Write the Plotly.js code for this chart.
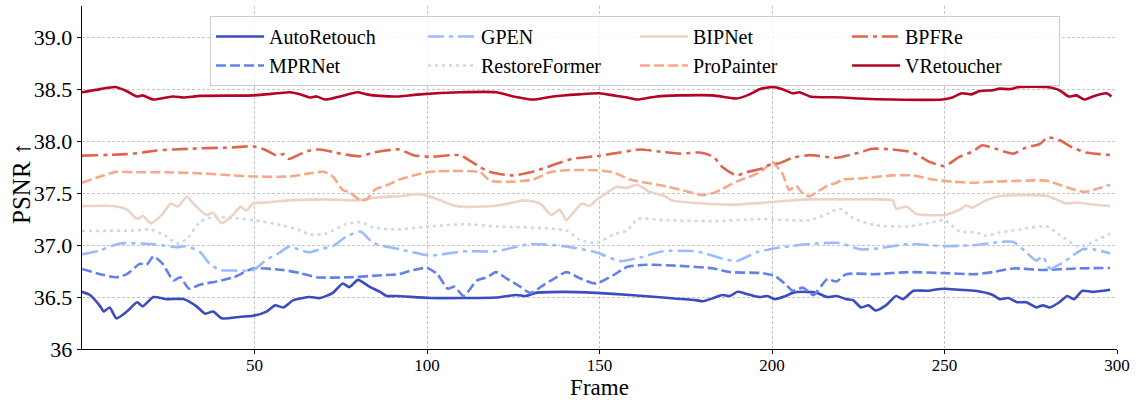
<!DOCTYPE html>
<html>
<head>
<meta charset="utf-8">
<script src="https://cdn.plot.ly/plotly-3.0.1.min.js"></script>
<style>html,body{margin:0;padding:0;background:#fff;}#chart{width:1136px;height:402px;}</style>
</head>
<body>
<div id="chart"></div>
<script>
// ---- data ----
const seriesNames = ["AutoRetouch","MPRNet","GPEN","RestoreFormer","BIPNet","ProPainter","BPFRe","VRetoucher"];

const autoX = [0,2.3,5.3,6.3,8,10,13,16,17.6,20.7,24.6,29.4,33.2,35.7,38,40.5,46,49.6,53.5,56,58.3,61.3,66,69,72.7,75.6,77.5,80,83.3,86.4,88.3,91,101,110.6,120,126,128.6,131.5,139.5,149,158.8,168.4,178,180,183,185.6,187.8,190,192.6,196.4,198.7,200.6,204,206,210,213,216,218.7,221.5,223.5,225.8,228,230,233,236,238,241,245,247,250,254.4,259,264,266,268.5,271,273.7,276.6,278.5,280.5,283.3,285.6,287.5,290,293,298];
const autoY = [36.55,36.52,36.41,36.36,36.40,36.295,36.36,36.45,36.41,36.50,36.48,36.48,36.41,36.34,36.36,36.295,36.31,36.32,36.36,36.42,36.40,36.47,36.50,36.49,36.54,36.63,36.595,36.665,36.60,36.55,36.51,36.51,36.49,36.49,36.495,36.52,36.51,36.54,36.55,36.54,36.52,36.495,36.47,36.46,36.49,36.52,36.51,36.55,36.53,36.50,36.51,36.48,36.51,36.54,36.55,36.54,36.50,36.51,36.48,36.47,36.40,36.42,36.37,36.42,36.51,36.48,36.56,36.56,36.57,36.58,36.57,36.56,36.52,36.48,36.49,36.45,36.45,36.40,36.42,36.40,36.45,36.51,36.48,36.56,36.55,36.57];

const mprX = [0,5.3,10,13,16.8,18.7,20.7,23.4,26.5,28.5,31,34.3,39,44,49.6,58.3,63.2,68,77.5,87,92,96,100,103,106,108,110.6,114.5,117.4,120,123,127,130,134,137,140.4,144.3,149,154,158,163.6,173.3,183,187.8,197.3,201,204,206,209,212,216,218.7,221.5,230,239.6,250,259,264,270,278.5,288,298];
const mprY = [36.77,36.72,36.69,36.72,36.82,36.81,36.89,36.82,36.66,36.69,36.58,36.62,36.65,36.69,36.775,36.76,36.73,36.69,36.69,36.71,36.72,36.76,36.78,36.72,36.58,36.60,36.51,36.66,36.69,36.74,36.68,36.60,36.54,36.62,36.68,36.74,36.68,36.63,36.71,36.79,36.81,36.80,36.775,36.74,36.73,36.70,36.62,36.56,36.59,36.52,36.67,36.65,36.72,36.72,36.74,36.73,36.72,36.74,36.775,36.76,36.775,36.78];

const gpenX = [0,5.3,11,20,27.5,30.4,34.3,37,40,44,49.6,53.5,56.5,60.3,63.2,66,69,72.7,76.5,80.7,84.4,92,101,110.6,120,130,139.5,149,156,161.7,168.4,178,185.6,189.7,195.5,201,211,219.6,225.4,231.2,239.6,250,259,266,270,273.7,276.6,278.5,280.5,285.2,290,293,298];
const gpenY = [36.91,36.95,37.015,37.01,36.98,36.99,36.93,36.82,36.76,36.755,36.76,36.86,36.91,36.99,36.95,36.93,36.96,36.99,37.08,37.13,37.02,36.96,36.90,36.94,36.94,37.01,36.99,36.93,36.845,36.88,36.94,36.94,36.87,36.845,36.93,36.97,37.01,37.02,36.96,36.97,37.01,36.99,37.00,37.03,37.03,36.93,36.85,36.89,36.775,36.85,36.96,36.96,36.92];

const restX = [0,15,20,24.6,27.5,30.4,34.3,38,44,49.6,58,63.2,66,70.7,76.5,80.7,84.4,91,101,110.6,120,134.8,140.4,144.3,149,154,158,161,168.4,183,196.4,211,216,219.6,223.5,230,239.6,246.6,250,254.4,259.2,262,266,271.7,279.5,283.3,289,293,298];
const restY = [37.135,37.14,37.15,37.08,37.015,37.06,37.225,37.27,37.26,37.24,37.19,37.14,37.10,37.11,37.20,37.22,37.17,37.15,37.18,37.20,37.18,37.16,37.14,37.05,37.02,37.10,37.14,37.25,37.24,37.23,37.25,37.24,37.30,37.35,37.26,37.19,37.18,37.22,37.24,37.13,37.12,37.09,37.12,37.15,37.18,37.10,36.985,37.03,37.11];

const bipX = [0,9,13,16,17.6,20,23.4,25.7,27.8,30.4,32,36,38,40.5,44,46,47.6,49.6,53.5,60,70,80,86,92,98,104,106,109.6,119,125,128,132.8,136,138.5,140.4,142.3,145,147,149,152,155,158,160.8,164.7,169,171,180,190,200,210,220,230,235,236,239,241.8,250,254.4,256.3,258,262,266,272,280,283,285.2,288,293,298];
const bipY = [37.375,37.375,37.34,37.25,37.28,37.21,37.30,37.40,37.37,37.465,37.41,37.29,37.31,37.21,37.30,37.37,37.33,37.40,37.41,37.43,37.44,37.43,37.46,37.47,37.49,37.43,37.40,37.37,37.375,37.41,37.43,37.40,37.29,37.34,37.24,37.31,37.40,37.375,37.43,37.50,37.56,37.55,37.58,37.51,37.47,37.43,37.40,37.39,37.415,37.44,37.44,37.44,37.43,37.35,37.37,37.30,37.29,37.34,37.38,37.36,37.43,37.47,37.48,37.47,37.43,37.40,37.41,37.39,37.375];

const proX = [0,5.3,10,15,24.6,34.3,44,49.6,60.3,66,70,72.7,75.6,77.5,80.7,82.5,85,88,92,96,101,115.4,118,120,125,130.7,135.6,140.4,149,154,158.8,163.6,170,176,180,183,185.6,189.7,194.5,197.3,200.2,201,203,205,207,209,211,213,216,218.7,220.5,225.4,235,240.8,246.6,252.3,258,264,273.7,279.5,283.3,287,290.6,294,298];
const proY = [37.60,37.66,37.705,37.70,37.70,37.69,37.67,37.66,37.66,37.69,37.705,37.66,37.53,37.51,37.43,37.44,37.535,37.57,37.63,37.67,37.705,37.70,37.625,37.61,37.61,37.63,37.70,37.72,37.72,37.70,37.63,37.60,37.56,37.51,37.48,37.50,37.54,37.61,37.67,37.72,37.80,37.77,37.69,37.53,37.57,37.49,37.47,37.51,37.57,37.60,37.63,37.64,37.67,37.67,37.63,37.61,37.60,37.61,37.62,37.62,37.58,37.54,37.51,37.54,37.58];

const bpfX = [0,13,17.6,21.5,26.5,34,44,49.6,53.5,56.5,58.3,60,63.2,66,69,72.7,76.5,80.7,84.4,88,92,96,101,109.6,112,115.4,117,120,125,130,134.8,137.7,142.3,150,155.9,161.7,168.4,173.3,179,183,185.6,189.7,192.6,197.3,200.2,202,206,211,218.7,225.4,229,235,240.8,245.7,250,254.4,258.2,261,264,270,273.7,277.5,280,283.3,287,291,295,298.4];
const bpfY = [37.86,37.875,37.89,37.91,37.92,37.93,37.94,37.95,37.91,37.86,37.875,37.83,37.875,37.91,37.92,37.895,37.87,37.855,37.89,37.91,37.92,37.865,37.85,37.865,37.82,37.75,37.72,37.69,37.67,37.70,37.75,37.785,37.83,37.86,37.89,37.92,37.895,37.88,37.89,37.85,37.75,37.67,37.70,37.74,37.785,37.785,37.84,37.865,37.84,37.89,37.926,37.92,37.89,37.80,37.76,37.85,37.90,37.96,37.935,37.88,37.94,37.97,38.035,38.01,37.94,37.89,37.875,37.865];

const vrX = [0,5.3,9.6,13,16,17.6,20.7,26.5,29.4,34.3,49.6,56.5,60.3,63.2,66,68,70.5,74.8,77.7,80,82.5,86.4,92,98,109.6,120,125,130.7,136.5,144,150,154,158,161,166.6,173,182.8,189.7,193.5,196.4,200.2,203,206,208,211,220.5,225.4,235,249.4,252.3,255,257.8,260,264,266,268.8,271.7,279.5,283.3,286,288.2,290.6,293,296.9,298.4];
const vrY = [38.47,38.50,38.52,38.48,38.43,38.44,38.40,38.43,38.42,38.435,38.44,38.46,38.47,38.45,38.42,38.43,38.40,38.43,38.455,38.47,38.45,38.435,38.43,38.45,38.47,38.47,38.43,38.40,38.43,38.45,38.46,38.44,38.42,38.40,38.43,38.44,38.44,38.41,38.45,38.50,38.52,38.50,38.46,38.47,38.43,38.42,38.41,38.40,38.40,38.42,38.46,38.45,38.48,38.49,38.505,38.50,38.52,38.52,38.49,38.43,38.44,38.40,38.43,38.46,38.43];

const xTickVals = [50,100,150,200,250,300];
const yTickVals = [36,36.5,37,37.5,38,38.5,39];
const yTickText = ["36","36.5","37.0","37.5","38.0","38.5","39.0"];
const yTitle = "PSNR ↑";
const xTitle = "Frame";

// ---- styling ----
const colors = ["#3b4cc0","#6282ea","#9abbff","#c9d7f0","#ebd3c6","#f7a889","#e0654f","#b40426"];
const dashes = ["solid","10px,4px","16px,5px,4px,5px","3px,4px","solid","10px,4px","16px,5px,4px,5px","solid"];
const ranks = [1,5,2,6,3,7,4,8];
const xs = [autoX,mprX,gpenX,restX,bipX,proX,bpfX,vrX];
const ys = [autoY,mprY,gpenY,restY,bipY,proY,bpfY,vrY];

const traces = seriesNames.map((n,i)=>({
  type:'scatter', mode:'lines', name:n, x:xs[i], y:ys[i],
  legendrank: ranks[i],
  line:{color:colors[i], width:2.6, dash:dashes[i], shape:'spline', smoothing:0.6}
}));

const serif = '"Liberation Serif","Times New Roman",serif';
const layout = {
  width:1136, height:402,
  margin:{l:82, r:19, t:6, b:53},
  paper_bgcolor:'#fff', plot_bgcolor:'#fff',
  font:{family:serif, color:'#000'},
  showlegend:true,
  legend:{
    orientation:'h', x:0.1237, y:0.971, xanchor:'left', yanchor:'top',
    bgcolor:'rgba(255,255,255,0.8)', bordercolor:'#cccccc', borderwidth:1,
    font:{family:serif, size:20, color:'#000'},
    entrywidth:149, entrywidthmode:'pixels', itemwidth:48, traceorder:'normal'
  },
  xaxis:{
    range:[0,300], tickvals:xTickVals, ticks:'outside', ticklen:4, tickwidth:1, tickcolor:'#000',
    showline:true, linecolor:'#000', linewidth:1.3, zeroline:false,
    showgrid:true, gridcolor:'#b8b8b8', gridwidth:0.8, griddash:'3px,2px',
    tickfont:{family:serif, size:17, color:'#000'}, ticklabelstandoff:-4,
    title:{text:xTitle, font:{family:serif, size:23, color:'#000'}, standoff:3}
  },
  yaxis:{
    range:[36,39.3], tickvals:yTickVals, ticktext:yTickText, ticks:'outside', ticklen:4, tickwidth:1, tickcolor:'#000',
    showline:true, linecolor:'#000', linewidth:1.3, zeroline:false,
    showgrid:true, gridcolor:'#b8b8b8', gridwidth:0.8, griddash:'3px,2px',
    tickfont:{family:serif, size:22, color:'#000'}
  },
  annotations:[{
    text:yTitle, xref:'paper', yref:'paper', x:-0.058, y:0.484, xanchor:'center', yanchor:'middle',
    textangle:-90, showarrow:false, font:{family:serif, size:25, color:'#000'}
  }]
};
Plotly.newPlot('chart', traces, layout, {displayModeBar:false, staticPlot:true});
</script>
</body>
</html>
